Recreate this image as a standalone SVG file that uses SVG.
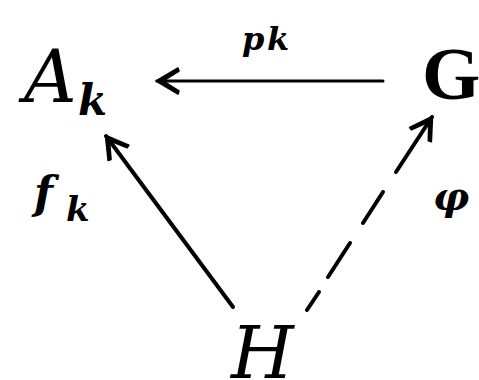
<svg xmlns="http://www.w3.org/2000/svg" width="479" height="380" viewBox="0 0 479 380">
<style>
.t{font-family:"Liberation Serif","Times New Roman",serif;fill:#000}
.i{font-family:"DejaVu Serif","Liberation Serif",serif;font-style:italic}
.b{font-weight:bold}
.ln{stroke:#000;stroke-linecap:round;fill:none}
</style>
<defs>
<marker id="ah" markerUnits="userSpaceOnUse" markerWidth="30" markerHeight="30" viewBox="-24 -15 28 30" refX="0" refY="0" orient="auto">
<path d="M1,0 L-21,-13 L-22,-10 L-6,0 L-22,10 L-21,13 Z" fill="#000" stroke="#000" stroke-width="1.5" stroke-linejoin="round"/>
</marker>
</defs>
<rect width="479" height="380" fill="#fff"/>
<g id="connectors">
<line class="ln" x1="383" y1="81" x2="157" y2="81" stroke-width="3" marker-end="url(#ah)"/>
<line class="ln" x1="233" y1="307" x2="106" y2="136" stroke-width="4" marker-end="url(#ah)"/>
<path class="ln" d="M307,310 L319,292 M328,277 L350,243 M363,223 L383,192" stroke-width="4"/>
<line class="ln" x1="396" y1="172" x2="432" y2="117" stroke-width="4" marker-end="url(#ah)"/>
</g>
<g id="node-Ak">
<text class="t i" x="24" y="102" font-size="73">A</text>
<text class="t i b" x="78" y="115" font-size="42">k</text>
</g>
<g id="node-G">
<text class="t b" x="422" y="99" font-size="75">G</text>
</g>
<g id="node-H">
<text class="t i" x="231" y="378" font-size="72">H</text>
</g>
<g id="labels">
<text class="t i b" y="50" font-size="32"><tspan x="242">p</tspan><tspan x="267">k</tspan></text>
<text class="t i b" x="34" y="208" font-size="44">f</text>
<text class="t i b" x="66" y="221" font-size="34">k</text>
<text class="t i b" x="433" y="210" font-size="40">φ</text>
</g>
</svg>
